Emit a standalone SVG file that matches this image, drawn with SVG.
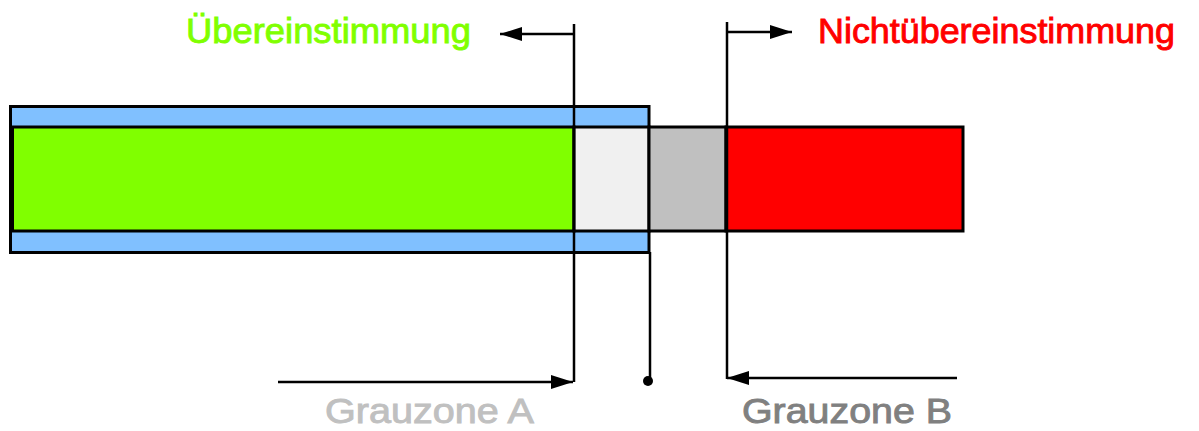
<svg xmlns="http://www.w3.org/2000/svg" width="1199" height="431" viewBox="0 0 1199 431">
<style>
.box{stroke:#000;stroke-width:3}
.ln{stroke:#000;stroke-width:2.5;fill:none}
.lbl{font-family:"Liberation Sans",Arial,sans-serif;font-size:35px;stroke-width:0.9px}
</style>
<defs>
<marker id="ah" markerUnits="userSpaceOnUse" markerWidth="24" markerHeight="14" refX="22" refY="7" orient="auto">
<path d="M0,0 L22,7 L0,14 Z" fill="#000"/>
</marker>
</defs>
<rect width="1199" height="431" fill="#fff"/>
<g id="frame">
<rect class="box" x="10.5" y="106.5" width="638.5" height="146" fill="#80c0ff"/>
</g>
<g id="uebereinstimmung-zone">
<rect class="box" x="12.5" y="127" width="561.5" height="104" fill="#80ff00"/>
</g>
<g id="grauzone-a-zone">
<rect class="box" x="574" y="127" width="75" height="104" fill="#f0f0f0"/>
</g>
<g id="grauzone-b-zone">
<rect class="box" x="649" y="127" width="77" height="104" fill="#c0c0c0"/>
</g>
<g id="nicht-zone">
<rect class="box" x="726" y="127" width="237" height="104" fill="#ff0000"/>
</g>
<g id="connectors">
<line class="ln" x1="574" y1="24" x2="574" y2="382"/>
<line class="ln" x1="650" y1="252" x2="650" y2="381"/>
<circle cx="648" cy="381" r="5" fill="#000"/>
<line class="ln" x1="727" y1="22" x2="727" y2="379"/>
<line class="ln" x1="573" y1="34" x2="500" y2="34" marker-end="url(#ah)"/>
<line class="ln" x1="727" y1="32" x2="792" y2="32" marker-end="url(#ah)"/>
<line class="ln" x1="278" y1="382" x2="573" y2="382" marker-end="url(#ah)"/>
<line class="ln" x1="957" y1="378" x2="727" y2="378" marker-end="url(#ah)"/>
</g>
<g id="labels">
<text class="lbl" x="186" y="43" fill="#80ff00" stroke="#80ff00" textLength="285" lengthAdjust="spacingAndGlyphs">Übereinstimmung</text>
<text class="lbl" x="818" y="43" fill="#ff0000" stroke="#ff0000" textLength="357" lengthAdjust="spacingAndGlyphs">Nichtübereinstimmung</text>
<text class="lbl" x="325" y="423" fill="#c0c0c0" stroke="#c0c0c0" textLength="209" lengthAdjust="spacingAndGlyphs">Grauzone A</text>
<text class="lbl" x="742" y="423" fill="#808080" stroke="#808080" textLength="210" lengthAdjust="spacingAndGlyphs">Grauzone B</text>
</g>
</svg>
